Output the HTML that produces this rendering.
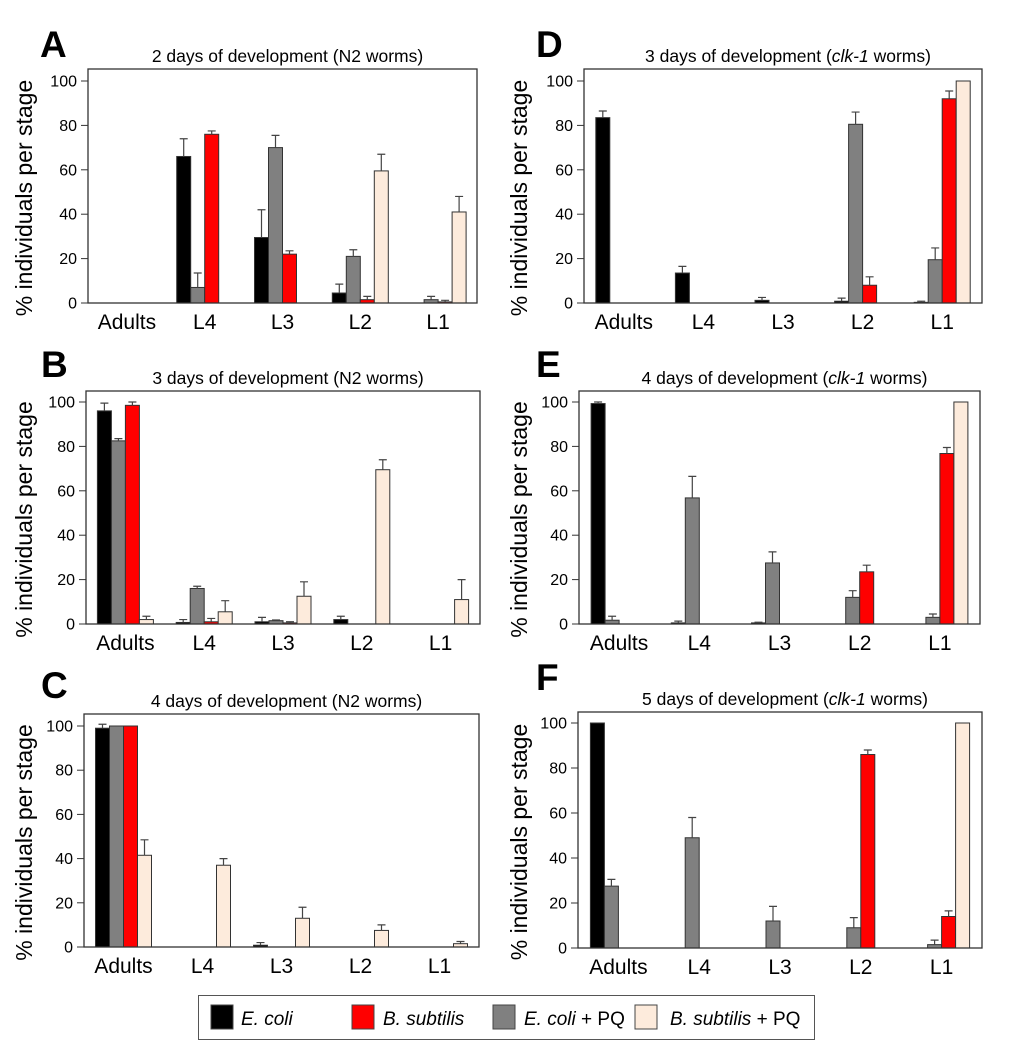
<!DOCTYPE html>
<html><head><meta charset="utf-8"><style>
body{margin:0;background:#fff}
svg{display:block;font-family:"Liberation Sans",sans-serif}
</style></head><body>
<svg id="fig" width="1020" height="1063" viewBox="0 0 1020 1063" xmlns="http://www.w3.org/2000/svg">
<g>
<rect x="198.5" y="995.5" width="616" height="44" fill="#fff" stroke="#555" stroke-width="1"/>
<rect x="211" y="1005" width="22" height="24" fill="#000" stroke="#444"/>
<text x="241" y="1025" font-size="19" font-style="italic">E. coli</text>
<rect x="352" y="1005" width="22" height="24" fill="#f00" stroke="#444"/>
<text x="383" y="1025" font-size="19" font-style="italic">B. subtilis</text>
<rect x="493" y="1005" width="22" height="24" fill="#808080" stroke="#444"/>
<text x="524" y="1025" font-size="19"><tspan font-style="italic">E. coli</tspan> + PQ</text>
<rect x="635" y="1005" width="22" height="24" fill="#fdebdc" stroke="#444"/>
<text x="670" y="1025" font-size="19"><tspan font-style="italic">B. subtilis</tspan> + PQ</text>
</g>
</svg>
<script>
const categories=["Adults","L4","L3","L2","L1"];
const seriesColors=["#000","#808080","#f00","#fdebdc"];
const yTicks=[0,20,40,60,80,100];
const valuesA=[[0,0,0,0],[66,7,76,0],[29.5,70,22,0],[4.5,21,1.5,59.5],[0,1.5,0.5,41]];
const errA=[[0,0,0,0],[8,6.5,1.5,0],[12.5,5.5,1.5,0],[4,3,1.5,7.5],[0,1.5,0.7,7]];
const valuesB=[[96,82.5,98.5,2],[0.7,16,1,5.5],[1,1.5,0.5,12.5],[2,0,0,69.5],[0,0,0,11]];
const errB=[[3.5,1,1.5,1.5],[1.3,1,1.5,5],[2,0.3,0.5,6.5],[1.5,0,0,4.5],[0,0,0,9]];
const valuesC=[[99,100,100,41.5],[0,0,0,37],[0.8,0,0,13],[0,0,0,7.5],[0,0,0,1.5]];
const errC=[[1.8,0,0,7],[0,0,0,3],[1.2,0,0,5],[0,0,0,2.5],[0,0,0,1]];
const valuesD=[[83.5,0,0,0],[13.5,0,0,0],[1.2,0,0,0],[0.8,80.5,8,0],[0.3,19.5,92,100]];
const errD=[[3,0,0,0],[3,0,0,0],[1.3,0,0,0],[1.4,5.5,3.8,0],[0.5,5.3,3.5,0]];
const valuesE=[[99.3,1.7,0,0],[0.5,56.8,0,0],[0.5,27.5,0,0],[0,12,23.5,0],[0,3,76.8,100]];
const errE=[[0.7,1.8,0,0],[0.8,9.7,0,0],[0.3,5,0,0],[0,3,3,0],[0,1.5,2.7,0]];
const valuesF=[[100,27.5,0,0],[0,49,0,0],[0,12,0,0],[0,9,86,0],[0,1.5,14,100]];
const errF=[[0,3,0,0],[0,9,0,0],[0,6.5,0,0],[0,4.5,2,0],[0,2,2.5,0]];

const NS="http://www.w3.org/2000/svg";
const svg=document.getElementById('fig');
function mk(tag,attrs,parent){const e=document.createElementNS(NS,tag);for(const k in attrs)e.setAttribute(k,attrs[k]);parent.appendChild(e);return e;}

const panels=[
 {id:"a",letter:"A",title:["2 days of development (N2 worms)"],x0:88,x1:477,top:69,bottom:303,y100:81,lx:40,ly:57,v:valuesA,e:errA,ytx:24},
 {id:"b",letter:"B",title:["3 days of development (N2 worms)"],x0:86,x1:480,top:391,bottom:624,y100:402,lx:41,ly:377,v:valuesB,e:errB,ytx:24},
 {id:"c",letter:"C",title:["4 days of development (N2 worms)"],x0:84,x1:479,top:714,bottom:947,y100:726,lx:41,ly:698,v:valuesC,e:errC,ytx:24},
 {id:"d",letter:"D",title:["3 days of development (","clk-1"," worms)"],x0:584,x1:982,top:69,bottom:303,y100:81,lx:536,ly:57,v:valuesD,e:errD,ytx:519},
 {id:"e",letter:"E",title:["4 days of development (","clk-1"," worms)"],x0:579,x1:980,top:391,bottom:624,y100:402,lx:536,ly:377,v:valuesE,e:errE,ytx:519},
 {id:"f",letter:"F",title:["5 days of development (","clk-1"," worms)"],x0:578,x1:982,top:712,bottom:948,y100:723,lx:536,ly:690,v:valuesF,e:errF,ytx:519}
];
const seriesNames=["ecoli","ecoli-pq","bsub","bsub-pq"];
panels.forEach(p=>{
 const g=mk('g',{},svg);
 
 
 const y=v=>p.bottom-(p.bottom-p.y100)*v/100;
 const gw=(p.x1-p.x0)/categories.length;
 const bw=14;
 const xBar=(c,s)=>p.x0+c*gw+(gw-4*bw)/2+s*bw;
 const L=mk('text',{x:p.lx,y:p.ly,'font-size':37,'font-weight':'bold'},g);L.textContent=p.letter;
 
 
 const T=mk('text',{x:(p.x0+p.x1)/2+5,y:p.top-7,'font-size':17.5,'text-anchor':'middle'},g);
 
 
 p.title.forEach((s,i)=>{const ts=mk('tspan',i==1?{'font-style':'italic'}:{},T);ts.textContent=s;});
 const yt=mk('text',{x:0,y:0,'font-size':23,'text-anchor':'middle',transform:`translate(${p.ytx+8},${(p.top+p.bottom)/2+12}) rotate(-90)`},g);
 yt.textContent="% individuals per stage";
 
 
 yTicks.forEach(t=>{
  const ln=mk('line',{x1:p.x0-7,x2:p.x0,y1:y(t),y2:y(t),stroke:'#333'},g);
  
  
  const tl=mk('text',{x:p.x0-11,y:y(t)+5.5,'font-size':16,'text-anchor':'end'},g);tl.textContent=t;
  
  
 });
 categories.forEach((c,ci)=>{
  const cl=mk('text',{x:p.x0+ci*gw+gw/2,y:p.bottom+26,'font-size':21,'text-anchor':'middle'},g);cl.textContent=c;
  
  
  for(let s=0;s<4;s++){
   const v=p.v[ci][s],er=p.e[ci][s],bx=xBar(ci,s);
   if(v>0){
    const r=mk('rect',{x:bx,y:y(v),width:bw,height:p.bottom-y(v),fill:seriesColors[s],stroke:'#333','stroke-width':1},g);
    
    
   }
   if(er>0){
    const cx=bx+bw/2;
    const eb=mk('path',{d:`M${cx},${y(v)}V${y(v+er)}M${cx-4},${y(v+er)}H${cx+4}`,stroke:'#444',fill:'none','stroke-width':1.2},g);
    
    
   }
  }
 });
 const fr=mk('rect',{x:p.x0,y:p.top,width:p.x1-p.x0,height:p.bottom-p.top,fill:'none',stroke:'#333','stroke-width':1.3},g);
 
 
});
</script>
</body></html>
